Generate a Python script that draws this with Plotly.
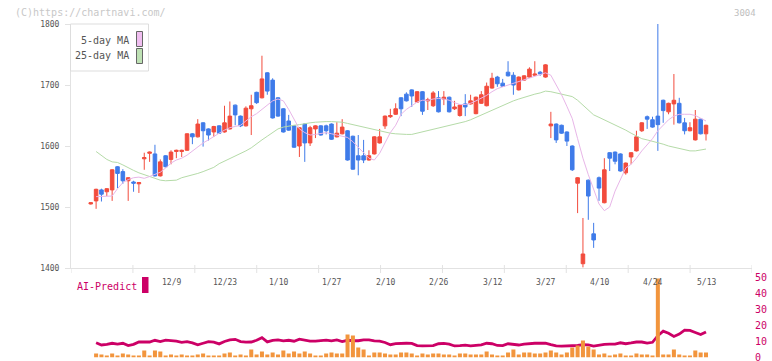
import plotly.graph_objects as go

W, H = 772, 361

# ---------------- data ----------------
opens = [1505,1510,1528,1525,1528,1566,1558,1543,1541,1538,1579,1588,1587,1551,1584,1578,1591,1591,1593,1620,
         1615,1638,1628,1623,1633,1623,1628,1667,1649,1633,1661,1688,1679,1720,1708,1679,1661,1641,1633,1600,
         1636,1605,1628,1633,1633,1636,1615,1620,1625,1616,1584,1584,1577,1587,1605,1633,1648,1652,1679,1685,
         1692,1672,1689,1674,1666,1679,1677,1680,1661,1650,1669,1669,1653,1670,1666,1695,1713,1703,1721,1716,
         1692,1708,1713,1716,1721,1713,1633,1636,1634,1623,1600,1539,1407,1544,1456,1548,1507,1589,1590,1587,
         1556,1582,1592,1625,1648,1643,1649,1675,1656,1669,1670,1638,1625,1610,1644,1620]
highs = [1508,1530,1530,1531,1562,1567,1562,1549,1543,1541,1589,1591,1602,1578,1585,1593,1594,1594,1621,1621,
         1644,1639,1629,1633,1634,1666,1673,1668,1650,1665,1684,1689,1748,1721,1711,1680,1662,1651,1634,1631,
         1637,1633,1634,1634,1635,1637,1639,1644,1626,1617,1618,1610,1593,1616,1628,1650,1661,1670,1680,1688,
         1693,1690,1690,1679,1690,1690,1690,1681,1674,1668,1685,1684,1681,1690,1704,1720,1715,1710,1739,1721,
         1714,1716,1729,1739,1723,1734,1656,1637,1635,1624,1601,1549,1482,1545,1474,1550,1580,1590,1591,1588,
         1573,1590,1625,1639,1650,1648,1800,1676,1671,1718,1679,1646,1639,1659,1645,1635]
lows = [1504,1497,1509,1518,1510,1531,1538,1510,1525,1523,1561,1574,1550,1550,1565,1570,1580,1582,1592,1603,
        1614,1599,1609,1615,1620,1622,1627,1634,1631,1632,1618,1669,1678,1684,1645,1648,1622,1625,1597,1582,
        1574,1600,1613,1617,1619,1610,1614,1619,1576,1561,1552,1572,1576,1586,1604,1628,1646,1651,1649,1673,
        1664,1671,1651,1659,1664,1655,1667,1655,1659,1648,1649,1668,1652,1669,1665,1694,1697,1697,1714,1684,
        1691,1707,1712,1715,1715,1712,1613,1605,1620,1600,1559,1490,1401,1479,1433,1510,1506,1559,1570,1558,
        1553,1570,1591,1623,1628,1630,1592,1638,1652,1635,1637,1619,1624,1609,1619,1609]
closes = [1507,1529,1521,1530,1561,1555,1543,1548,1539,1540,1581,1590,1551,1574,1566,1590,1593,1593,1620,1615,
          1636,1625,1618,1632,1621,1638,1649,1651,1633,1662,1666,1671,1710,1690,1646,1649,1623,1626,1598,1630,
          1605,1630,1633,1618,1625,1611,1621,1631,1577,1562,1577,1577,1584,1615,1615,1649,1650,1661,1661,1674,
          1682,1689,1657,1676,1687,1656,1680,1656,1664,1667,1664,1674,1680,1684,1698,1711,1702,1698,1715,1700,
          1713,1715,1726,1718,1718,1733,1636,1610,1621,1608,1561,1548,1423,1518,1446,1531,1561,1580,1575,1559,
          1572,1589,1615,1638,1644,1631,1635,1658,1670,1675,1638,1625,1630,1644,1620,1634]

# moving averages (start at the 2nd session)
ma5 = [1517,1517,1517,1518,1530,1540,1545,1548,1549,1547,1550,1554,1557,1564,1572,1577,1580,1585,1592,1599,
       1605,1610,1616,1621,1626,1630,1632,1634,1641,1648,1653,1660,1668,1674,1677,1674,1660,1643,1628,1622,
       1618,1619,1620,1622,1620,1618,1617,1614,1607,1598,1588,1580,1577,1588,1605,1622,1634,1652,1660,1666,
       1672,1675,1675,1677,1678,1677,1675,1671,1668,1668,1670,1674,1678,1683,1689,1694,1697,1700,1702,1705,
       1708,1712,1715,1717,1720,1716,1700,1684,1665,1645,1612,1580,1553,1530,1505,1494,1500,1526,1544,1564,
       1570,1580,1592,1602,1612,1625,1634,1643,1649,1652,1652,1652,1650,1645,1641]
ma25 = [1591,1584,1578,1574,1573,1569,1564,1560,1556,1553,1551,1547,1544,1543,1543,1544,1548,1550,1552,1555,
        1558,1561,1565,1571,1575,1579,1584,1588,1592,1597,1604,1610,1616,1622,1628,1631,1633,1634,1635,1637,
        1638,1639,1640,1640,1640,1640,1639,1637,1635,1633,1631,1628,1626,1624,1623,1621,1620,1619,1619,1619,
        1621,1623,1625,1628,1630,1632,1633,1635,1637,1640,1643,1647,1651,1654,1658,1662,1666,1670,1674,1677,
        1680,1683,1685,1687,1690,1689,1687,1685,1683,1681,1675,1667,1658,1651,1647,1643,1639,1634,1630,1626,
        1621,1617,1612,1610,1608,1606,1603,1600,1598,1596,1594,1592,1592,1594,1595]

# AI-Predict index and volume (start at the 2nd session)
ai_predict = [9.0,7.6,8.0,8.7,8.2,8.7,7.2,8.0,9.5,9.7,9.5,10.6,9.8,10.7,10.5,10.0,9.3,9.7,8.9,7.7,
              8.7,9.7,9.4,8.3,9.8,10.8,11.2,9.8,9.4,9.5,10.6,12.2,9.6,10.5,10.8,10.2,10.6,10.0,11.3,10.8,
              10.1,10.1,10.4,10.7,10.2,10.8,9.8,10.6,10.3,10.3,10.9,10.8,10.2,10.0,9.2,7.8,8.5,8.7,8.7,8.6,
              7.2,7.0,6.9,7.2,8.4,8.6,8.2,7.0,7.2,7.5,7.0,7.2,7.7,8.7,8.4,7.3,7.2,8.4,8.0,7.6,
              8.1,8.6,8.7,8.7,8.7,7.8,7.1,6.9,6.9,6.9,7.3,7.8,7.7,6.9,7.5,8.0,8.2,8.2,9.0,8.4,
              8.9,9.5,9.5,8.8,9.3,13.5,16.4,15.0,13.0,14.5,17.0,16.8,15.5,14.2,15.9]
volume = [4,3,2,4,2,4,3,2,2,7,2,7,6,2,3,2,3,2,2,3,
          4,2,2,2,4,5,2,3,2,8,3,6,3,5,3,7,4,6,4,6,
          4,2,2,4,5,4,4,23,22,10,8,2,5,5,4,3,3,5,5,4,
          2,4,3,4,4,3,3,2,4,4,3,3,3,6,3,2,2,5,8,3,
          5,5,4,4,5,7,5,3,5,10,12,17,11,8,3,4,2,3,4,2,
          2,4,3,3,2,79,3,3,8,3,2,2,7,5,5]

date_labels = ["12/9", "12/23", "1/10", "1/27", "2/10", "2/26", "3/12", "3/27", "4/10", "4/24", "5/13"]
date_label_idx = [15, 25, 35, 45, 55, 65, 75, 85, 95, 105, 115]
price_ticks = [1400, 1500, 1600, 1700, 1800]
ai_ticks = [0, 10, 20, 30, 40, 50]

# ---------------- styling / geometry ----------------
RED = "#f24c3d"
BLUE = "#3f7be9"
PINK = "#e8b6e8"
GREEN = "#b5dba8"
CRIMSON = "#cc0066"
ORANGE = "#f2953d"
AXIS = "#e2e2e2"
TXT = "#555555"
MONO = "DejaVu Sans Mono"

idx = list(range(len(opens)))
idx_tail = idx[1:]

PX_L, PX_R = 71, 752
X0_PX, DX_PX = 90.75, 5.35
xr = [(PX_L - X0_PX) / DX_PX, (PX_R - X0_PX) / DX_PX]


def py(y):
    return 1 - y / H


def px(x):
    return x / W


fig = go.Figure()

fig.add_trace(go.Candlestick(
    x=idx, open=opens, high=highs, low=lows, close=closes,
    increasing=dict(line=dict(color=RED, width=1), fillcolor=RED),
    decreasing=dict(line=dict(color=BLUE, width=1), fillcolor=BLUE),
    whiskerwidth=0, showlegend=False, hoverinfo="skip",
    xaxis="x", yaxis="y"))

fig.add_trace(go.Scatter(x=idx_tail, y=ma25, mode="lines", line=dict(color=GREEN, width=1),
                         showlegend=False, hoverinfo="skip", xaxis="x", yaxis="y"))
fig.add_trace(go.Scatter(x=idx_tail, y=ma5, mode="lines", line=dict(color=PINK, width=1),
                         showlegend=False, hoverinfo="skip", xaxis="x", yaxis="y"))

fig.add_trace(go.Bar(x=idx_tail, y=volume, marker=dict(color=ORANGE, line=dict(width=0)),
                     width=0.75, showlegend=False, hoverinfo="skip", xaxis="x2", yaxis="y3"))
fig.add_trace(go.Scatter(x=idx_tail, y=ai_predict, mode="lines", line=dict(color=CRIMSON, width=2.8),
                         showlegend=False, hoverinfo="skip", xaxis="x2", yaxis="y2"))

shapes = []
# crossing tick marks on the bottom price axis
for k in range(0, 12):
    xv = xr[0] + k * (xr[1] - xr[0]) / 11
    y_top = 265 if k > 0 else 268
    shapes.append(dict(type="line", xref="x", yref="paper", x0=xv, x1=xv,
                       y0=py(273), y1=py(y_top), line=dict(color=AXIS, width=1)))
# legend box
shapes.append(dict(type="rect", xref="paper", yref="paper", x0=px(70.5), x1=px(148.5),
                   y0=py(71), y1=py(24), line=dict(color="#dddddd", width=1), fillcolor="white", layer="above"))
shapes.append(dict(type="rect", xref="paper", yref="paper", x0=px(136.5), x1=px(142.5),
                   y0=py(46.5), y1=py(31.5), line=dict(color="#666666", width=1), fillcolor="#f0bef0", layer="above"))
shapes.append(dict(type="rect", xref="paper", yref="paper", x0=px(136.5), x1=px(142.5),
                   y0=py(63.5), y1=py(48.5), line=dict(color="#666666", width=1), fillcolor="#bee1b4", layer="above"))
# AI-Predict swatch
shapes.append(dict(type="rect", xref="paper", yref="paper", x0=px(142), x1=px(148.5),
                   y0=py(293), y1=py(277), line=dict(width=0), fillcolor=CRIMSON))

annotations = []
for lab, i in zip(date_labels, date_label_idx):
    annotations.append(dict(x=i, xref="x", y=py(282), yref="paper", text=lab, showarrow=False,
                            xanchor="center", yanchor="middle", font=dict(family=MONO, size=8, color=TXT)))
annotations += [
    dict(x=px(131), y=py(40), xref="paper", yref="paper", text="5-day MA", showarrow=False,
         xanchor="right", yanchor="middle", font=dict(family=MONO, size=10, color=TXT)),
    dict(x=px(131), y=py(56), xref="paper", yref="paper", text="25-day MA", showarrow=False,
         xanchor="right", yanchor="middle", font=dict(family=MONO, size=10, color=TXT)),
    dict(x=px(13), y=py(12.5), xref="paper", yref="paper", text="(C)https://chartnavi.com/", showarrow=False,
         xanchor="left", yanchor="middle", font=dict(family=MONO, size=10, color="#c8c8c8")),
    dict(x=px(758), y=py(12.5), xref="paper", yref="paper", text="3004", showarrow=False,
         xanchor="right", yanchor="middle", font=dict(family=MONO, size=9, color="#c0c0c0")),
    dict(x=px(75), y=py(286), xref="paper", yref="paper", text="AI-Predict", showarrow=False,
         xanchor="left", yanchor="middle", font=dict(family=MONO, size=10, color=CRIMSON)),
]

fig.update_layout(
    width=W, height=H,
    margin=dict(l=0, r=0, t=0, b=0, autoexpand=False),
    paper_bgcolor="white", plot_bgcolor="white",
    boxgap=0.05,
    barmode="overlay",
    showlegend=False,
    shapes=shapes,
    annotations=annotations,
    xaxis=dict(domain=[px(PX_L), px(PX_R)], range=xr, anchor="y", showticklabels=False, automargin=False,
               showgrid=False, zeroline=False, showline=True, linecolor=AXIS, linewidth=1,
               ticks="", rangeslider=dict(visible=False), fixedrange=True),
    yaxis=dict(domain=[py(268), py(24)], range=[1400, 1800], anchor="x", tickvals=price_ticks, automargin=False,
               showgrid=False, zeroline=False, showline=True, linecolor=AXIS, linewidth=1,
               ticks="outside", ticklen=5, tickcolor=AXIS, ticklabelstandoff=4,
               tickfont=dict(family=MONO, size=8, color=TXT)),
    xaxis2=dict(domain=[px(PX_L), px(PX_R)], range=xr, anchor="y2", visible=False, automargin=False),
    yaxis2=dict(domain=[py(357.5), py(277.5)], range=[-0.3, 50.3], anchor="x2", side="right", tickvals=ai_ticks,
                automargin=False, showgrid=False, zeroline=False, showline=False, ticks="", ticklabelstandoff=2,
                ticklabeloverflow="allow", tickfont=dict(family=MONO, size=10, color=CRIMSON)),
    yaxis3=dict(domain=[py(357.5), py(277.5)], range=[0, 80], overlaying="y2", anchor="x2", visible=False,
                automargin=False),
)

fig.write_html("out.html", config={"displayModeBar": False},
               post_script="document.body.style.margin='0';document.body.style.padding='0';"
                           "document.body.style.overflow='hidden';")
